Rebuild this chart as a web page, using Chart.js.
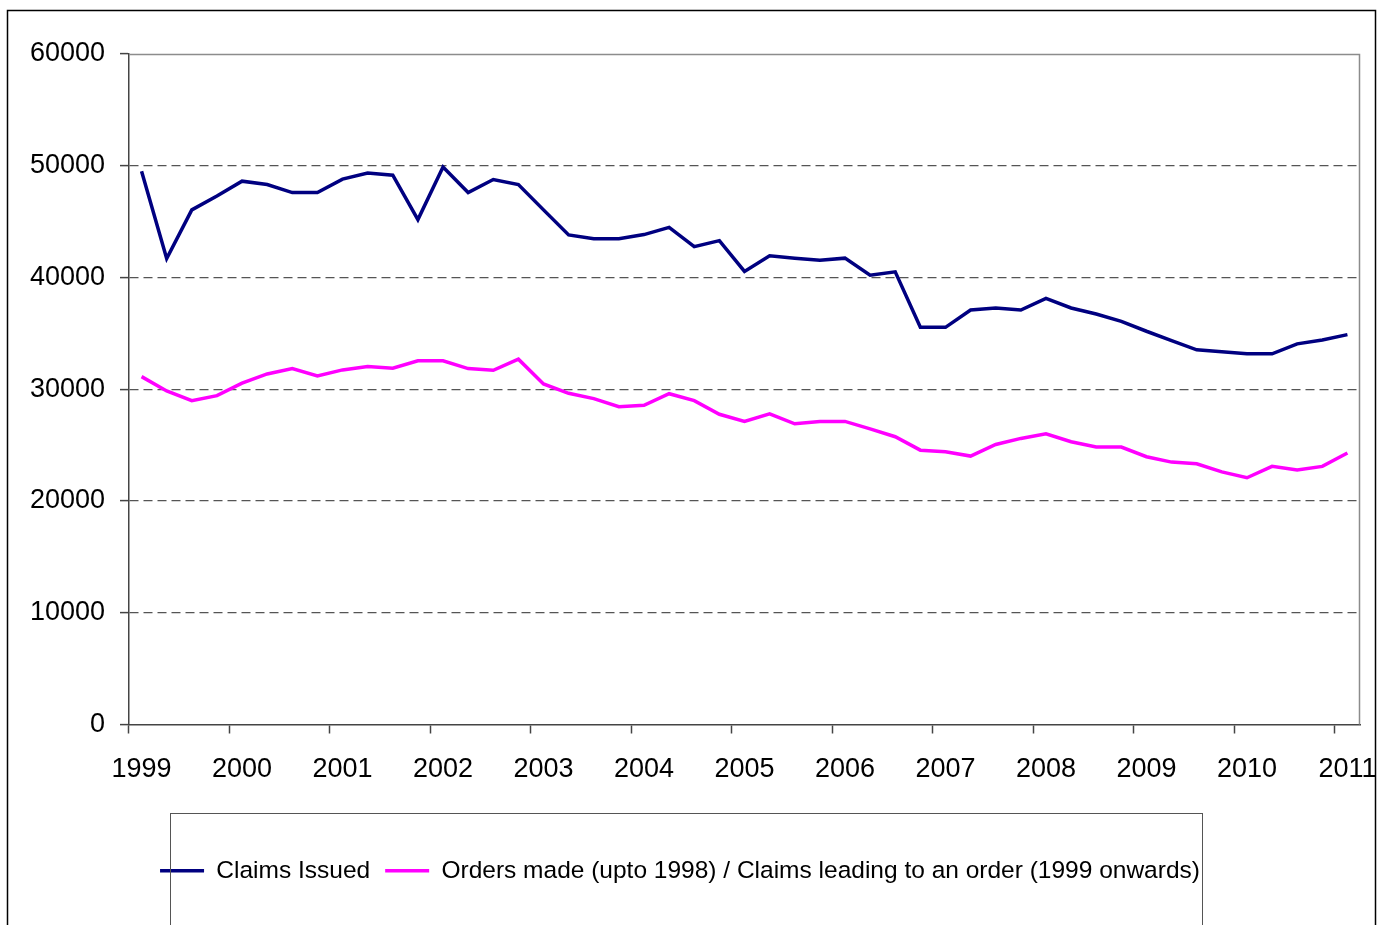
<!DOCTYPE html>
<html>
<head>
<meta charset="utf-8">
<script src="https://cdn.jsdelivr.net/npm/chart.js@4"></script>
<style>
  html, body { margin: 0; padding: 0; background: #fff; }
  #wrap { width: 1384px; height: 925px; }
</style>
</head>
<body>
<div id="wrap"><canvas id="claimsChart" width="1384" height="925"></canvas></div>
<script>
  "use strict";

  // quarterly figures, 1999 Q1 .. 2011 Q1
  const years = ['1999', '2000', '2001', '2002', '2003', '2004', '2005', '2006', '2007', '2008', '2009', '2010', '2011'];
  const quarters = ['Q1', 'Q2', 'Q3', 'Q4'];

  const claimsIssued = [
    49500, 41700, 46050, 47300,
    48620, 48320, 47600, 47600,
    48800, 49340, 49160, 45180,
    49880, 47600, 48770, 48320,
    46050, 43810, 43470, 43470,
    43840, 44490, 42760, 43300,
    40540, 41940, 41730, 41550,
    41730, 40210, 40510, 35540,
    35540, 37090, 37270, 37090,
    38130, 37270, 36730, 36080,
    35190, 34360, 33530, 33350,
    33170, 33170, 34060, 34410,
    34890
  ];

  const ordersMade = [
    31130, 29850, 28980, 29430,
    30540, 31370, 31850, 31190,
    31730, 32030, 31880, 32540,
    32540, 31850, 31700, 32690,
    30480, 29640, 29160, 28440,
    28560, 29600, 28980, 27760,
    27120, 27800, 26910, 27120,
    27120, 26460, 25750, 24550,
    24410, 24020, 25060, 25600,
    26020, 25300, 24830, 24830,
    23960, 23480, 23330, 22610,
    22080, 23100, 22770, 23100,
    24300
  ];

  const categories = [];
  years.forEach(function (y) {
    quarters.forEach(function (q) {
      if (categories.length < claimsIssued.length) categories.push(y + ' ' + q);
    });
  });

  const fontName = "'Liberation Sans', Arial, sans-serif";

  // white page, outer frame, plot border and legend box
  const framePlugin = {
    id: 'frame',
    beforeDraw(chart) {
      const ctx = chart.ctx;
      ctx.save();
      ctx.fillStyle = '#fff';
      ctx.fillRect(0, 0, chart.width, chart.height);
      ctx.strokeStyle = '#000';
      ctx.lineWidth = 1.5;
      ctx.strokeRect(7.5, 10.5, 1368, 1000);
      ctx.restore();
    },
    beforeDatasetsDraw(chart) {
      const a = chart.chartArea;
      const ctx = chart.ctx;
      ctx.save();
      ctx.strokeStyle = '#8c8c8c';
      ctx.lineWidth = 1.5;
      ctx.beginPath();
      ctx.moveTo(a.left, a.top + 0.5);
      ctx.lineTo(a.right - 0.5, a.top + 0.5);
      ctx.lineTo(a.right - 0.5, a.bottom);
      ctx.stroke();
      ctx.restore();
    },
    afterDraw(chart) {
      const ctx = chart.ctx;
      ctx.save();
      ctx.strokeStyle = '#555';
      ctx.lineWidth = 1;
      ctx.strokeRect(170.5, 813.5, 1032, 200);
      ctx.restore();
    }
  };

  const ctx = document.getElementById('claimsChart').getContext('2d');
  const claimsChart = new Chart(ctx, {
    type: 'line',
    data: {
      labels: categories,
      datasets: [{
        label: 'Claims Issued',
        data: claimsIssued,
        borderColor: '#000080',
        backgroundColor: '#000080',
        borderWidth: 3.5,
        pointRadius: 0,
        tension: 0
      }, {
        label: 'Orders made (upto 1998) / Claims leading to an order (1999 onwards)',
        data: ordersMade,
        borderColor: '#ff00ff',
        backgroundColor: '#ff00ff',
        borderWidth: 3.5,
        pointRadius: 0,
        tension: 0
      }]
    },
    options: {
      responsive: false,
      animation: false,
      layout: {
        padding: { left: 0, top: 54, right: 24, bottom: 32 }
      },
      plugins: {
        tooltip: { enabled: false },
        legend: {
          position: 'bottom',
          labels: {
            usePointStyle: true,
            pointStyle: 'line',
            pointStyleWidth: 44,
            boxHeight: 3,
            padding: 15,
            color: '#000',
            font: { family: fontName, size: 24.5 }
          }
        }
      },
      scales: {
        x: {
          offset: true,
          afterFit: function (scale) {
            scale.height = 119;
            scale.paddingLeft = 0;
            scale.paddingRight = 0;
          },
          grid: {
            offset: true,
            drawOnChartArea: false,
            tickLength: 9,
            tickWidth: 1.5,
            tickColor: function (c) { return c.index % 4 === 0 ? '#444' : 'rgba(0,0,0,0)'; }
          },
          border: { color: '#444', width: 1.5 },
          ticks: {
            autoSkip: false,
            maxRotation: 0,
            padding: 20,
            color: '#000',
            font: { family: fontName, size: 27 },
            callback: function (v, i) { return i % 4 === 0 ? years[i / 4] : ''; }
          }
        },
        y: {
          min: 0,
          max: 60000,
          afterFit: function (scale) { scale.width = 129; },
          grid: {
            color: function (c) {
              return (c.tick.value === 0 || c.tick.value === 60000) ? 'rgba(0,0,0,0)' : '#555';
            },
            lineWidth: 1.2,
            tickLength: 9,
            tickWidth: 1.5,
            tickColor: '#444'
          },
          border: { color: '#444', width: 1.5, dash: [9, 5] },
          ticks: {
            stepSize: 10000,
            padding: 15,
            color: '#000',
            font: { family: fontName, size: 27 },
            callback: function (v) { return String(v); }
          }
        }
      }
    },
    plugins: [framePlugin]
  });
</script>
</body>
</html>
